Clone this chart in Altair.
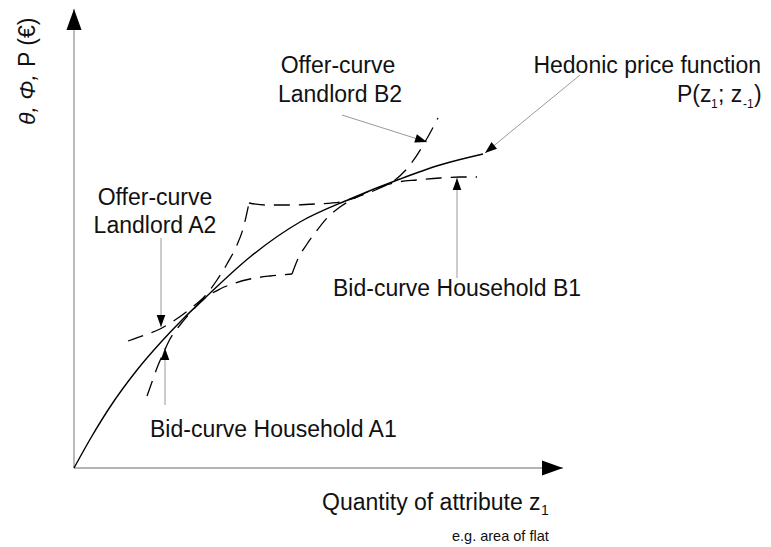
import math
import altair as alt
import pandas as pd

# ---------------- data (z = quantity of attribute, p = price) ----------------
hedonic_z = [0, 18, 36, 63, 88, 108, 133, 176, 226, 276, 326, 366, 409]
hedonic_p = [0, 32, 61, 98, 127, 148, 172, 211, 246, 269, 289, 303, 314]

offerA2_z = [54, 71, 86, 101, 116, 131, 143, 153, 162, 169, 175]
offerA2_p = [127, 133, 139, 148, 159, 172, 188, 204, 221, 239, 265]

offerB2_z = [175, 191, 216, 241, 266, 286, 306, 321, 336, 351, 364]
offerB2_p = [265, 263, 263, 264, 266, 272, 280, 288, 303, 326, 350]

bidA1_z = [73, 78, 83, 89, 96, 106, 118, 131, 146, 161, 176, 196, 218]
bidA1_p = [72, 86, 100, 114, 129, 143, 157, 170, 179, 185, 189, 192, 194]

bidB1_z = [218, 223, 233, 241, 253, 266, 279, 291, 306, 324, 343, 366, 386, 403]
bidB1_p = [194, 207, 224, 235, 250, 261, 269, 275, 281, 286, 288, 290, 291, 291]

# annotation arrows: start -> tip
arrow_names = ["offerB2", "hedonic", "offerA2", "bidA1", "bidB1"]
arrow_z1 = [268, 506, 87, 91, 383]
arrow_p1 = [353, 393, 230, 63, 190]
arrow_z2 = [353, 411, 87, 91, 383]
arrow_p2 = [326, 315, 141, 120, 290]

# axes: start -> tip
axis_z1 = [0, 0]
axis_p1 = [0, 0]
axis_z2 = [0, 489]
axis_p2 = [459, 0]

# texts
main_left_text = ["Bid-curve Household B1", "Bid-curve Household A1", "Quantity of attribute z"]
main_center_text = ["Offer-curve", "Landlord B2", "Offer-curve", "Landlord A2"]
hedonic_text = ["Hedonic price function"]
formula_text = ["P(z", "; z", ")"]
sub_text = ["1", "-1"]
axis_sub_text = ["1"]
note_text = ["e.g. area of flat"]
ytitle_italic = ["θ, Φ,"]
ytitle_normal = ["P (€)"]

# ---------------- layout ----------------
W, H = 755, 539
Z0, P0 = 74 - 8, 468 - 8          # where z=0 / p=0 sit inside the view
xs = alt.Scale(domain=[-Z0, W - Z0], nice=False, zero=False)
ys = alt.Scale(domain=[P0 - H, P0], nice=False, zero=False)
X = lambda f: alt.X(f, type="quantitative", scale=xs, axis=None)
Y = lambda f: alt.Y(f, type="quantitative", scale=ys, axis=None)

FONT = "Liberation Sans"

def curve_df(name, zs, ps):
    return pd.DataFrame({"z": zs, "p": ps, "curve": name, "o": range(len(zs))})

hed_df = curve_df("hedonic", hedonic_z, hedonic_p)
dash_df = pd.concat([
    curve_df("offerA2", offerA2_z, offerA2_p),
    curve_df("offerB2", offerB2_z, offerB2_p),
    curve_df("bidA1", bidA1_z, bidA1_p),
    curve_df("bidB1", bidB1_z, bidB1_p),
])

def with_angles(df):
    df = df.copy()
    df["angle"] = [math.degrees(math.atan2(z2 - z1, p2 - p1)) % 360
                   for z1, p1, z2, p2 in zip(df.z1, df.p1, df.z2, df.p2)]
    return df

arr_df = with_angles(pd.DataFrame({"name": arrow_names, "z1": arrow_z1, "p1": arrow_p1,
                                   "z2": arrow_z2, "p2": arrow_p2}))
ax_df = with_angles(pd.DataFrame({"z1": axis_z1, "p1": axis_p1, "z2": axis_z2, "p2": axis_p2}))

HEAD = "M0,0L0.36,1L-0.36,1Z"

hedonic = alt.Chart(hed_df).mark_line(color="black", strokeWidth=1.4, interpolate="monotone").encode(
    x=X("z"), y=Y("p"), order="o:Q")
dashed = alt.Chart(dash_df).mark_line(color="black", strokeWidth=1.3, strokeDash=[16, 9],
                                      interpolate="monotone").encode(
    x=X("z"), y=Y("p"), detail="curve:N", order="o:Q")

axes = alt.Chart(ax_df).mark_rule(color="#b4b4b4", strokeWidth=1.8).encode(
    x=X("z1"), y=Y("p1"), x2="z2", y2="p2")
axes_heads = alt.Chart(ax_df).mark_point(shape=HEAD, filled=True, color="black", opacity=1,
                                         size=1764, strokeWidth=0).encode(
    x=X("z2"), y=Y("p2"), angle=alt.Angle("angle:Q", scale=None))

arrows = alt.Chart(arr_df).mark_rule(color="#9a9a9a", strokeWidth=1).encode(
    x=X("z1"), y=Y("p1"), x2="z2", y2="p2")
arrow_heads = alt.Chart(arr_df).mark_point(shape=HEAD, filled=True, color="black", opacity=1,
                                           size=576, strokeWidth=0).encode(
    x=X("z2"), y=Y("p2"), angle=alt.Angle("angle:Q", scale=None))

def text_layer(texts, zs, ps, **kw):
    df = pd.DataFrame({"t": texts, "z": zs, "p": ps})
    base = dict(font=FONT, color="#111111", baseline="alphabetic")
    base.update(kw)
    return alt.Chart(df).mark_text(**base).encode(x=X("z"), y=Y("p"), text="t:N")

t_left = text_layer(main_left_text, [259, 76, 248], [172, 31, -42], align="left", fontSize=23)
t_center = text_layer(main_center_text, [264, 266, 81, 81], [395, 366, 263, 235], align="center", fontSize=23)
t_hed = text_layer(hedonic_text, [687], [395], align="right", fontSize=23)
t_formula = text_layer(formula_text, [603, 644, 680], [366, 366, 366], align="left", fontSize=23)
t_sub = text_layer(sub_text, [637, 669], [360, 360], align="left", fontSize=12)
t_axsub = text_layer(axis_sub_text, [467], [-47], align="left", fontSize=14)
t_note = text_layer(note_text, [378], [-73], align="left", fontSize=14.5)
t_y1 = text_layer(ytitle_italic, [-39], [343], align="left", fontSize=23, angle=270, fontStyle="italic")
t_y2 = text_layer(ytitle_normal, [-39], [401], align="left", fontSize=23, angle=270)

chart = alt.layer(
    axes, arrows, hedonic, dashed, axes_heads, arrow_heads,
    t_left, t_center, t_hed, t_formula, t_sub, t_axsub, t_note, t_y1, t_y2
).properties(
    width=W, height=H, autosize=alt.AutoSizeParams(type="none"), padding=0, background="white"
).configure_view(stroke=None)

chart.save("out.html", embed_options={"renderer": "svg", "actions": False})
